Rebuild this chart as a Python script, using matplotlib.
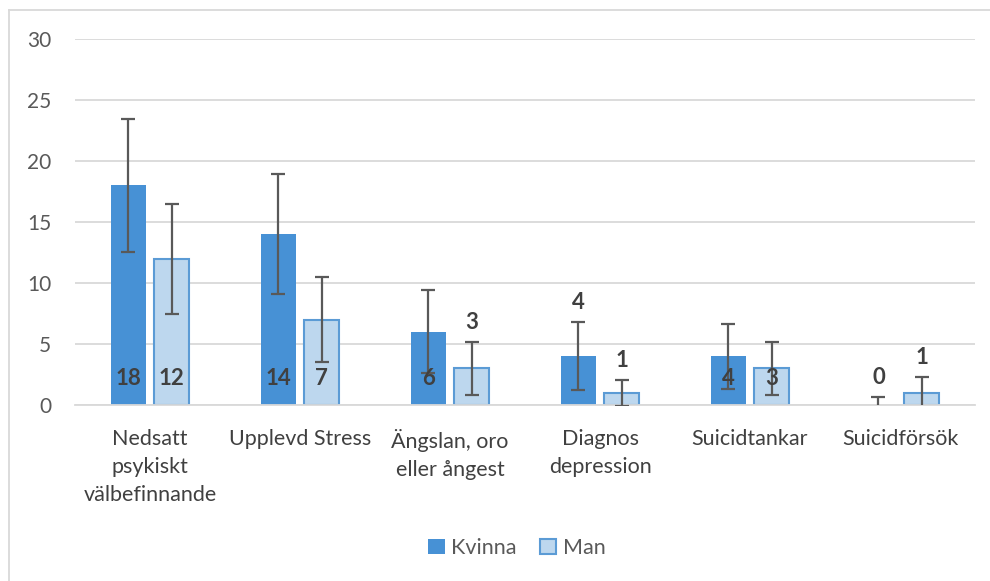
import matplotlib
matplotlib.use("Agg")
import matplotlib.pyplot as plt
import numpy as np
from matplotlib.lines import Line2D

categories = ["Nedsatt\npsykiskt\nvälbefinnande", "Upplevd Stress", "Ängslan, oro\neller ångest",
              "Diagnos\ndepression", "Suicidtankar", "Suicidförsök"]
kvinna = [18, 14, 6, 4, 4, 0]
man = [12, 7, 3, 1, 3, 1]
kvinna_err = [5.45, 4.9, 3.4, 2.77, 2.66, 0.68]
man_err = [4.5, 3.5, 2.15, 1.05, 2.15, 1.26]
# label placement: True = inside base, False = above error bar
kvinna_inside = [True, True, True, False, True, False]
man_inside = [True, True, False, False, True, False]
yticks = [0, 5, 10, 15, 20, 25, 30]

plt.rcParams['font.family'] = ['Lato', 'DejaVu Sans']

fig = plt.figure(figsize=(9.9, 5.81), dpi=100)
ax = fig.add_axes([75/990, 1-405/581, 900/990, 366/581])

x = np.arange(len(categories))
w = 0.233
off = 0.1435
kc = "#4791D5"
mc = "#BDD7EE"
me = "#5B9BD5"
ec = "#595959"

ax.bar(x - off, kvinna, w, color=kc, zorder=2, label="Kvinna")
ax.bar(x + off, man, w, color=mc, edgecolor=me, linewidth=1.5, zorder=2, label="Man")
ax.errorbar(x - off, kvinna, yerr=kvinna_err, fmt='none', ecolor=ec, elinewidth=1.6,
            capsize=5, capthick=1.6, zorder=3)
ax.errorbar(x + off, man, yerr=man_err, fmt='none', ecolor=ec, elinewidth=1.6,
            capsize=5, capthick=1.6, zorder=3)

def lab(xs, vals, errs, inside):
    for xi, v, e, ins in zip(xs, vals, errs, inside):
        if ins:
            ax.text(xi, 2.2, str(v), ha='center', va='center', fontsize=16,
                    fontweight='bold', color='#404040', zorder=4)
        else:
            ax.annotate(str(v), (xi, v + e), xytext=(0, 14), textcoords='offset points',
                        ha='center', va='center', fontsize=16, fontweight='bold',
                        color='#404040', zorder=4)

lab(x - off, kvinna, kvinna_err, kvinna_inside)
lab(x + off, man, man_err, man_inside)

ax.set_ylim(0, 30)
ax.set_xlim(-0.5, len(categories) - 0.5)
ax.set_yticks(yticks)
ax.yaxis.grid(True, color="#D9D9D9", linewidth=1.3, zorder=0)
ax.set_axisbelow(True)
for s in ['top', 'right', 'left']:
    ax.spines[s].set_visible(False)
ax.spines['bottom'].set_color("#D9D9D9")
ax.spines['bottom'].set_linewidth(1.3)
ax.set_xticks(x)
ax.set_xticklabels(categories, fontsize=15.5, color="#404040", linespacing=1.5, va='top')
ax.tick_params(axis='x', length=0, pad=17)
ax.tick_params(axis='y', length=0, pad=17, labelsize=15, labelcolor="#595959")

leg = fig.legend(loc='center', bbox_to_anchor=(517/990, 1-548/581), ncol=2, frameon=False,
                 fontsize=15.5, handlelength=0.75, handleheight=0.75, handletextpad=0.3,
                 columnspacing=1.1)
for t in leg.get_texts():
    t.set_color("#595959")

fig.lines.append(Line2D([9/990, 9/990], [0, 1-10/581], transform=fig.transFigure,
                        color="#D9D9D9", linewidth=1.3))
fig.lines.append(Line2D([9/990, 1], [1-10/581, 1-10/581], transform=fig.transFigure,
                        color="#D9D9D9", linewidth=1.3))

fig.savefig("out.png", dpi=100)
